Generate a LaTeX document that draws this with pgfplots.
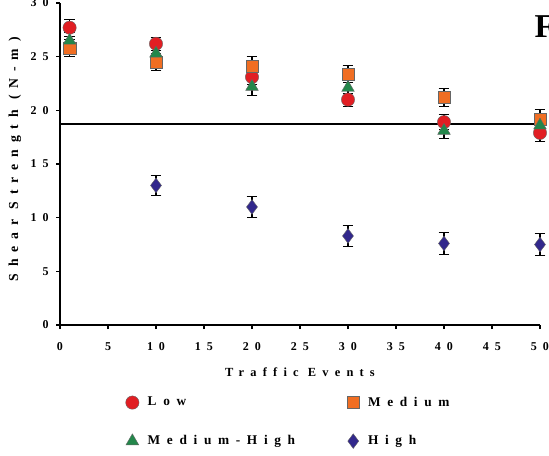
\documentclass[border=0pt]{standalone}
\usepackage{pgfplots}
\pgfplotsset{compat=1.18}
\usepackage{pgfplotstable}
\usepackage{fontspec}
\setmainfont{Liberation Serif}
\newfontfamily\spaced[LetterSpace=50]{Liberation Serif}
\definecolor{cLow}{RGB}{225,30,35}
\definecolor{cMed}{RGB}{240,110,35}
\definecolor{cMH}{RGB}{35,135,75}
\definecolor{cHigh}{RGB}{50,40,140}
\pgfplotstableread{
x y e
1 27.7 0.8
10 26.2 0.6
20 23.1 0.7
30 21.0 0.6
40 18.9 0.7
50 17.9 0.8
}\low
\pgfplotstableread{
x y e
1 25.8 0.8
10 24.5 0.8
20 24.1 0.9
30 23.4 0.8
40 21.2 0.8
50 19.2 0.9
}\medium
\pgfplotstableread{
x y e
1 26.5 0.8
10 25.3 0.8
20 22.2 0.8
30 22.1 0.8
40 18.1 0.7
50 18.6 0.7
}\medhigh
\pgfplotstableread{
x y e
10 13.0 0.9
20 11.0 1.0
30 8.3 1.0
40 7.6 1.0
50 7.5 1.0
}\high
\pgfplotstableread{
x y
0 18.7
50 18.7
}\threshold
\begin{document}
\begin{tikzpicture}
\begin{axis}[
  scale only axis, width=360pt, height=241.5pt,
  xmin=0, xmax=50, ymin=0, ymax=30,
  xtick={0,5,...,50}, ytick={0,5,...,30},
  axis x line*=bottom, axis y line*=left,
  axis line style={line width=1.5pt,-},
  tick align=outside, major tick length=3pt,
  every tick/.style={black, line width=1.2pt},
  clip=false,
  /pgf/number format/assume math mode=true,
  ticklabel style={font=\fontsize{9}{10}\selectfont\spaced\bfseries},
  xticklabel style={yshift=-6.5pt},
  yticklabel style={xshift=-2pt},
  xlabel={Traffic Events},
  ylabel={Shear Strength (N-m)},
  xlabel style={font=\fontsize{9.3}{10}\selectfont\spaced\bfseries, at={(axis description cs:0.5,-0.146)}, anchor=center},
  ylabel style={font=\fontsize{10.3}{11}\selectfont\spaced\bfseries, at={(axis description cs:-0.094,0.515)}, anchor=center},
  legend columns=2,
  legend cell align=left,
  legend style={draw=none, fill=none, at={(axis description cs:0.128,-0.206)}, anchor=north west,
    font=\fontsize{10}{11}\selectfont\spaced\bfseries,
    /tikz/every odd column/.append style={column sep=4.5pt},
    /tikz/every even column/.append style={column sep=37pt},
    row sep=16.5pt},
  error bars/error bar style={black, line width=0.8pt},
  error bars/error mark options={rotate=90, mark size=4pt, black, line width=0.8pt},
]
\addplot[black, line width=1.6pt, forget plot] table[x=x,y=y] {\threshold};
\addplot[only marks, mark=*, mark size=5pt, mark options={fill=cLow, draw=black!60, line width=0.3pt},
  error bars/.cd, y dir=both, y explicit] table[x=x,y=y,y error=e] {\low};
\addlegendentry{Low}
\addplot[only marks, mark=square*, mark size=4.6pt, mark options={fill=cMed, draw=black!60, line width=0.3pt},
  error bars/.cd, y dir=both, y explicit] table[x=x,y=y,y error=e] {\medium};
\addlegendentry{Medium}
\addplot[only marks, mark=triangle*, mark size=5.5pt, mark options={fill=cMH, draw=black!60, line width=0.3pt},
  error bars/.cd, y dir=both, y explicit] table[x=x,y=y,y error=e] {\medhigh};
\addlegendentry{Medium-High}
\addplot[only marks, mark=diamond*, mark size=5.5pt, mark options={fill=cHigh, draw=black!60, line width=0.3pt},
  error bars/.cd, y dir=both, y explicit] table[x=x,y=y,y error=e] {\high};
\addlegendentry{High}
\node[anchor=base west, font=\fontsize{25}{30}\selectfont\bfseries] at (axis description cs:0.979,0.894) {F};
\end{axis}
\pgfresetboundingbox
\path[use as bounding box] (-45pt,-97.5pt) rectangle (366.75pt,243.75pt);
\end{tikzpicture}
\end{document}
